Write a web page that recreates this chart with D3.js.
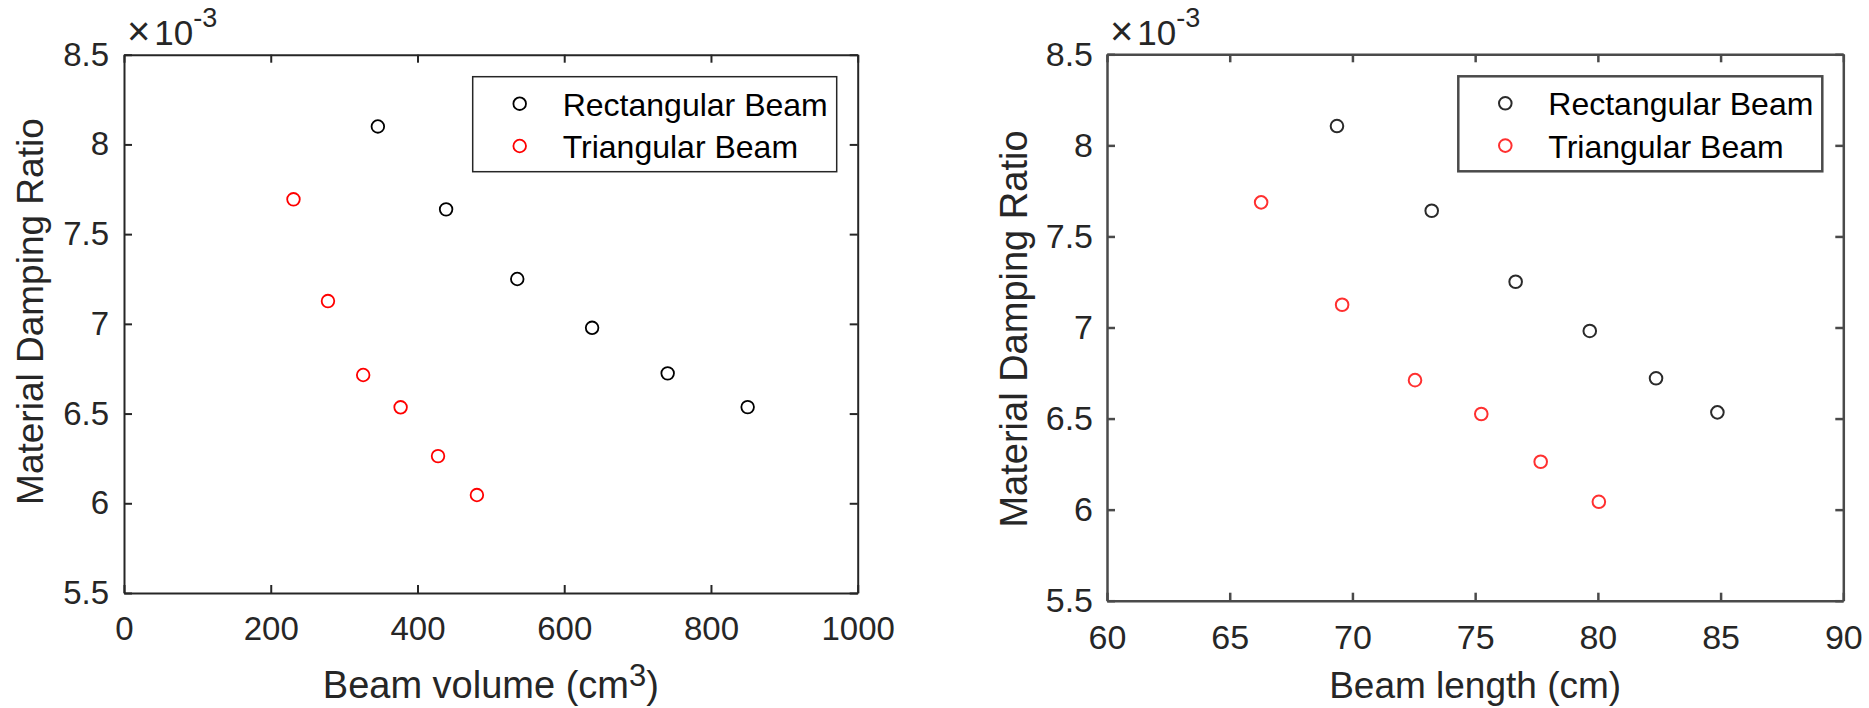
<!DOCTYPE html>
<html>
<head>
<meta charset="utf-8">
<script src="https://cdnjs.cloudflare.com/ajax/libs/d3/7.8.5/d3.min.js"></script>
<style>
  body { margin: 0; background: #fff; }
  svg text { font-family: "Liberation Sans", Arial, sans-serif; }
</style>
</head>
<body>
<div id="chart"></div>
<script>
var rectVolume = [346, 439, 536, 638, 741, 850];
var rectDampingV = [0.00810, 0.007638, 0.007250, 0.006978, 0.006724, 0.006536];
var triVolume = [231, 278, 326, 377, 428, 481];
var triDampingV = [0.007694, 0.007127, 0.006715, 0.006535, 0.006263, 0.006046];

var rectLength = [69.37, 73.23, 76.65, 79.67, 82.37, 84.87];
var rectDampingL = [0.008106, 0.007641, 0.007251, 0.006981, 0.006721, 0.006534];
var triLength = [66.28, 69.58, 72.55, 75.25, 77.67, 80.04];
var triDampingL = [0.007687, 0.007125, 0.006711, 0.006525, 0.006263, 0.006043];

var volumeTicks = [0, 200, 400, 600, 800, 1000];
var lengthTicks = [60, 65, 70, 75, 80, 85, 90];
var dampingTicks = [0.0055, 0.006, 0.0065, 0.007, 0.0075, 0.008, 0.0085];
var seriesNames = ['Rectangular Beam', 'Triangular Beam'];

var chart_width = 1869;
var chart_height = 708;

var svg = d3
  .select('#chart')
  .append('svg')
  .attr('width', chart_width)
  .attr('height', chart_height);

function drawPanel(p) {
  var x_scale = d3.scaleLinear().domain(p.xDomain).range([p.left, p.right]);
  var y_scale = d3.scaleLinear().domain([0.0055, 0.0085]).range([p.bottom, p.top]);
  var g = svg.append('g');

  // axes, ticks pointing inward like matlab
  var bottom = g.append('g')
    .attr('transform', 'translate(0,' + p.bottom + ')')
    .call(d3.axisBottom(x_scale).tickValues(p.xTicks).tickSizeInner(-8).tickSizeOuter(0).tickPadding(p.xPad)
      .tickFormat(function(d) { return String(d); }));
  var top = g.append('g')
    .attr('transform', 'translate(0,' + p.top + ')')
    .call(d3.axisTop(x_scale).tickValues(p.xTicks).tickSizeInner(-8).tickSizeOuter(0).tickFormat(''));
  var left = g.append('g')
    .attr('transform', 'translate(' + p.left + ',0)')
    .call(d3.axisLeft(y_scale).tickValues(dampingTicks).tickSizeInner(-8).tickSizeOuter(0).tickPadding(p.yPad)
      .tickFormat(function(d) { return +(d * 1000).toFixed(1); }));
  var right = g.append('g')
    .attr('transform', 'translate(' + p.right + ',0)')
    .call(d3.axisRight(y_scale).tickValues(dampingTicks).tickSizeInner(-8).tickSizeOuter(0).tickFormat(''));

  [bottom, top, left, right].forEach(function(a) {
    a.select('.domain').attr('stroke', p.axisColor).attr('stroke-width', p.axisWidth);
    a.selectAll('.tick line').attr('stroke', p.axisColor).attr('stroke-width', p.axisWidth);
    a.selectAll('.tick text')
      .attr('fill', '#262626')
      .style('font-size', p.tickFont + 'px')
      .style('font-family', '"Liberation Sans", Arial, sans-serif');
  });

  // exponent label
  var ex = g.append('text')
    .attr('x', p.expX)
    .attr('y', 45)
    .attr('fill', '#262626')
    .style('font-size', '35px');
  ex.append('tspan').style('font-size', '40px').style('font-weight', 300).text('\u00d7');
  ex.append('tspan').attr('dx', 4).text('10');
  ex.append('tspan').attr('dy', -18).style('font-size', '27px').text('-3');

  // axis titles
  var xl = g.append('text')
    .attr('x', (p.left + p.right) / 2)
    .attr('y', 698)
    .attr('text-anchor', 'middle')
    .attr('fill', '#262626')
    .style('font-size', p.labelFont + 'px');
  xl.append('tspan').text(p.xLabel);
  if (p.xSup) {
    xl.append('tspan').attr('dy', -12).style('font-size', '31px').text(p.xSup);
    xl.append('tspan').attr('dy', 12).text(')');
  }

  g.append('text')
    .attr('transform', 'translate(' + p.yLabelX + ',' + p.yLabelY + ') rotate(-90)')
    .attr('text-anchor', 'middle')
    .attr('fill', '#262626')
    .style('font-size', p.yLabelFont + 'px')
    .text('Material Damping Ratio');

  // markers
  var series = [
    { xs: p.rectX, ys: p.rectY, color: p.black },
    { xs: p.triX, ys: p.triY, color: p.red }
  ];
  series.forEach(function(s) {
    g.selectAll(null)
      .data(s.xs)
      .enter()
      .append('circle')
      .attr('cx', function(d) { return x_scale(d); })
      .attr('cy', function(d, i) { return y_scale(s.ys[i]); })
      .attr('r', 6.3)
      .attr('fill', 'none')
      .attr('stroke', s.color)
      .attr('stroke-width', p.markerWidth);
  });

  // legend
  var lx = p.right - 21 - 364;
  var ly = p.top + 22;
  g.append('rect')
    .attr('x', lx)
    .attr('y', ly)
    .attr('width', 364)
    .attr('height', 95)
    .attr('fill', '#fff')
    .attr('stroke', p.legendStroke)
    .attr('stroke-width', p.legendWidth);
  seriesNames.forEach(function(name, i) {
    var cy = ly + 27 + i * 42.3;
    g.append('circle')
      .attr('cx', lx + 47)
      .attr('cy', cy)
      .attr('r', 6.3)
      .attr('fill', 'none')
      .attr('stroke', series[i].color)
      .attr('stroke-width', p.markerWidth);
    g.append('text')
      .attr('x', lx + 90)
      .attr('y', cy + 12)
      .attr('fill', '#000')
      .style('font-size', '32px')
      .text(name);
  });
}

drawPanel({
  left: 124, right: 857.7, top: 54.7, bottom: 593,
  xDomain: [0, 1000], xTicks: volumeTicks,
  rectX: rectVolume, rectY: rectDampingV, triX: triVolume, triY: triDampingV,
  xLabel: 'Beam volume (cm', xSup: '3', labelFont: 38,
  yLabelX: 43.3, yLabelY: 311.6, yLabelFont: 37,
  expX: 127, xPad: 23.5, yPad: 15, tickFont: 33,
  axisColor: '#262626', axisWidth: 2, markerWidth: 1.8,
  black: '#000', red: '#ff0000',
  legendStroke: '#262626', legendWidth: 1.5
});

drawPanel({
  left: 1107, right: 1843.3, top: 54.3, bottom: 600.7,
  xDomain: [60, 90], xTicks: lengthTicks,
  rectX: rectLength, rectY: rectDampingL, triX: triLength, triY: triDampingL,
  xLabel: 'Beam length (cm)', xSup: null, labelFont: 37,
  yLabelX: 1027, yLabelY: 329, yLabelFont: 38,
  expX: 1110, xPad: 24, yPad: 14, tickFont: 34,
  axisColor: '#4a4a4a', axisWidth: 2.5, markerWidth: 2,
  black: '#2a2a2a', red: '#ff3030',
  legendStroke: '#4a4a4a', legendWidth: 2.5
});
</script>
</body>
</html>
